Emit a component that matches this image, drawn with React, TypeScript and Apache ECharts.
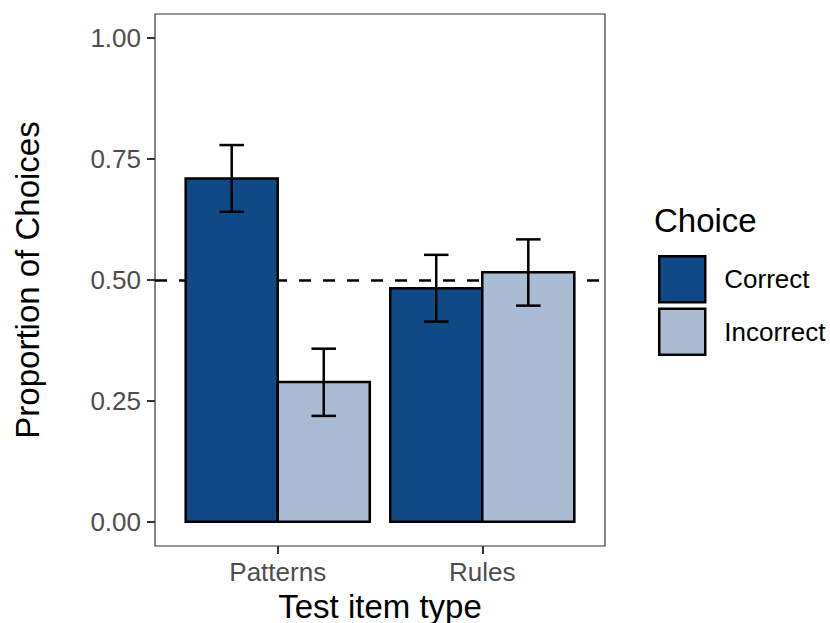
import React, { useEffect, useRef } from "react";
import * as echarts from "echarts";

const categories = ["Patterns", "Rules"];
const choices = ["Correct", "Incorrect"];
const correctValues = [0.71, 0.483];
const incorrectValues = [0.289, 0.516];
const correctLow = [0.641, 0.414];
const correctHigh = [0.779, 0.552];
const incorrectLow = [0.219, 0.447];
const incorrectHigh = [0.358, 0.584];
const yTicks = [0, 0.25, 0.5, 0.75, 1];
const chanceLevel = 0.5;

const colors = ["#0F4A87", "#A9BCD4"];
const FONT = "Liberation Sans, Arial, Helvetica, sans-serif";
const BAR_HALF = 0.45;
const CAP_HALF = 0.06;

export default function App() {
  const ref = useRef<HTMLDivElement>(null);
  useEffect(() => {
    if (!ref.current) return;
    const chart = echarts.init(ref.current, null, { renderer: "svg" });

    const barSeries = (name: string, values: number[], side: number, color: string, extra: any = {}) => ({
      name,
      type: "custom",
      itemStyle: { color, borderColor: "#000", borderWidth: 2.5 },
      data: values.map((v, i) => [i + 1, v]),
      encode: { x: 0, y: 1 },
      z: 2,
      renderItem: (params: any, api: any) => {
        const x = api.value(0);
        const v = api.value(1);
        const x0 = side < 0 ? x - BAR_HALF : x;
        const x1 = side < 0 ? x : x + BAR_HALF;
        const p0 = api.coord([x0, v]);
        const p1 = api.coord([x1, 0]);
        return {
          type: "rect",
          shape: { x: p0[0], y: p0[1], width: p1[0] - p0[0], height: p1[1] - p0[1] },
          style: { fill: color, stroke: "#000", lineWidth: 2.5 },
        };
      },
      ...extra,
    });

    const errData: number[][] = [];
    categories.forEach((_, i) => {
      errData.push([i + 1 - BAR_HALF / 2, correctLow[i], correctHigh[i]]);
      errData.push([i + 1 + BAR_HALF / 2, incorrectLow[i], incorrectHigh[i]]);
    });

    const option: any = {
      animation: false,
      textStyle: { fontFamily: FONT },
      title: {
        text: "Choice",
        left: 654,
        top: 204,
        padding: 0,
        textStyle: { fontFamily: FONT, fontSize: 33, fontWeight: "normal", color: "#000" },
      },
      legend: {
        data: choices,
        orient: "vertical",
        left: 658,
        top: 255,
        padding: 0,
        itemWidth: 46,
        itemHeight: 46,
        itemGap: 4,
        icon: "rect",
        selectedMode: false,
        itemStyle: { borderColor: "#000", borderWidth: 2.5 },
        textStyle: { fontFamily: FONT, fontSize: 26, color: "#000", padding: [0, 0, 0, 14] },
      },
      grid: {
        left: 155,
        top: 14,
        width: 450,
        height: 532,
        outerBoundsMode: "none",
        containLabel: false,
        show: true,
        borderColor: "#333333",
        borderWidth: 1.2,
        backgroundColor: "#fff",
      },
      xAxis: {
        type: "value",
        min: 0.4,
        max: 2.6,
        name: "Test item type",
        nameLocation: "middle",
        nameGap: 44,
        nameTextStyle: { fontFamily: FONT, fontSize: 33, color: "#000" },
        axisLine: { show: false, onZero: false },
        splitLine: { show: false },
        axisTick: { show: true, customValues: [1, 2], length: 8, lineStyle: { color: "#333", width: 2 } },
        axisLabel: {
          customValues: [1, 2],
          formatter: (v: number) => categories[Math.round(v) - 1] ?? "",
          fontFamily: FONT,
          fontSize: 26,
          color: "#4D4D4D",
          margin: 13,
        },
      },
      yAxis: {
        type: "value",
        min: -0.05,
        max: 1.05,
        name: "Proportion of Choices",
        nameLocation: "middle",
        nameGap: 111,
        nameTextStyle: { fontFamily: FONT, fontSize: 33, color: "#000" },
        axisLine: { show: false, onZero: false },
        splitLine: { show: false },
        axisTick: { show: true, customValues: yTicks, length: 8, lineStyle: { color: "#333", width: 2 } },
        axisLabel: {
          customValues: yTicks,
          formatter: (v: number) => v.toFixed(2),
          fontFamily: FONT,
          fontSize: 26,
          color: "#4D4D4D",
          margin: 14,
        },
      },
      series: [
        barSeries(choices[0], correctValues, -1, colors[0], {
          markLine: {
            silent: true,
            symbol: "none",
            label: { show: false },
            lineStyle: { color: "#000", type: [12, 12], width: 2.5 },
            data: [{ yAxis: chanceLevel }],
            z: 1,
          },
        }),
        barSeries(choices[1], incorrectValues, 1, colors[1]),
        {
          name: "errorbars",
          type: "custom",
          data: errData,
          encode: { x: 0, y: [1, 2] },
          z: 4,
          renderItem: (params: any, api: any) => {
            const x = api.value(0);
            const lo = api.value(1);
            const hi = api.value(2);
            const pLo = api.coord([x, lo]);
            const pHi = api.coord([x, hi]);
            const cL = api.coord([x - CAP_HALF, lo]);
            const cR = api.coord([x + CAP_HALF, lo]);
            const style = { stroke: "#000", lineWidth: 2.5 };
            return {
              type: "group",
              children: [
                { type: "line", shape: { x1: pLo[0], y1: pLo[1], x2: pHi[0], y2: pHi[1] }, style },
                { type: "line", shape: { x1: cL[0], y1: pHi[1], x2: cR[0], y2: pHi[1] }, style },
                { type: "line", shape: { x1: cL[0], y1: pLo[1], x2: cR[0], y2: pLo[1] }, style },
              ],
            };
          },
        },
      ],
    };
    chart.setOption(option);
    return () => chart.dispose();
  }, []);
  return <div ref={ref} style={{ width: 830, height: 623, position: "absolute", left: 0, top: 0 }} />;
}
